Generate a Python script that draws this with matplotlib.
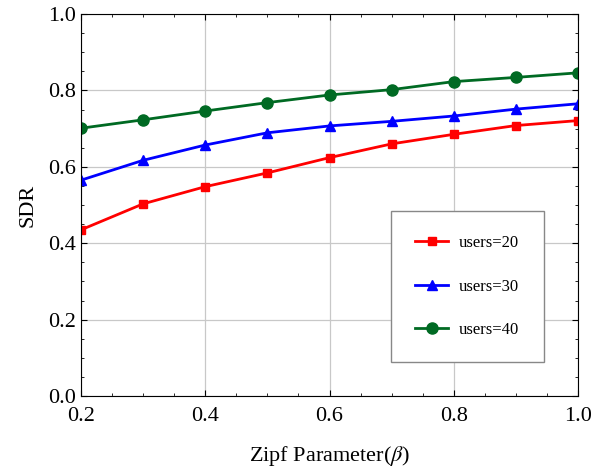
import matplotlib
matplotlib.use("Agg")
import matplotlib.pyplot as plt
from matplotlib.ticker import MultipleLocator

plt.rcParams['font.family'] = ['Liberation Serif', 'DejaVu Serif']
plt.rcParams['mathtext.fontset'] = 'stix'

beta = [0.2, 0.3, 0.4, 0.5, 0.6, 0.7, 0.8, 0.9, 1.0]
sdr_20 = [0.435, 0.503, 0.548, 0.584, 0.624, 0.660, 0.685, 0.708, 0.721]
sdr_30 = [0.565, 0.617, 0.657, 0.689, 0.707, 0.719, 0.733, 0.751, 0.765]
sdr_40 = [0.701, 0.723, 0.746, 0.768, 0.788, 0.802, 0.823, 0.834, 0.846]

fig = plt.figure(figsize=(6.03, 4.68), dpi=100)
ax = fig.add_axes([81/603, 1-396/468, 497/603, 382/468])

ax.plot(beta, sdr_20, color='#ff0000', lw=2, marker='s', ms=6, label='users=20')
ax.plot(beta, sdr_30, color='#0000ff', lw=2, marker='^', ms=7, label='users=30')
ax.plot(beta, sdr_40, color='#006a23', lw=2, marker='o', ms=8, label='users=40')

ax.set_xlim(0.2, 1.0)
ax.set_ylim(0.0, 1.0)
ax.xaxis.set_major_locator(MultipleLocator(0.2))
ax.xaxis.set_minor_locator(MultipleLocator(0.05))
ax.yaxis.set_major_locator(MultipleLocator(0.2))
ax.yaxis.set_minor_locator(MultipleLocator(0.05))
ax.tick_params(which='both', direction='in', top=True, right=True, labelsize=16)
ax.tick_params(which='major', length=4)
ax.tick_params(which='minor', length=2.5)
ax.tick_params(axis='x', which='major', pad=8)
ax.grid(True, which='major', color='#c8c8c8', lw=0.9)
ax.set_axisbelow(True)

ax.set_xlabel(r'Zipf Parameter($\beta$)', fontsize=16, labelpad=13)
ax.set_ylabel('SDR', fontsize=16, labelpad=8)

leg = ax.legend(loc='center', bbox_to_anchor=(0.777, 0.286),
                fontsize=12, numpoints=1, handlelength=2.0, handletextpad=0.66,
                labelspacing=1.65, borderpad=1.45, borderaxespad=0,
                fancybox=False, edgecolor='#888888', framealpha=1)
leg.get_frame().set_linewidth(1.0)

fig.savefig('out.png', dpi=100)
